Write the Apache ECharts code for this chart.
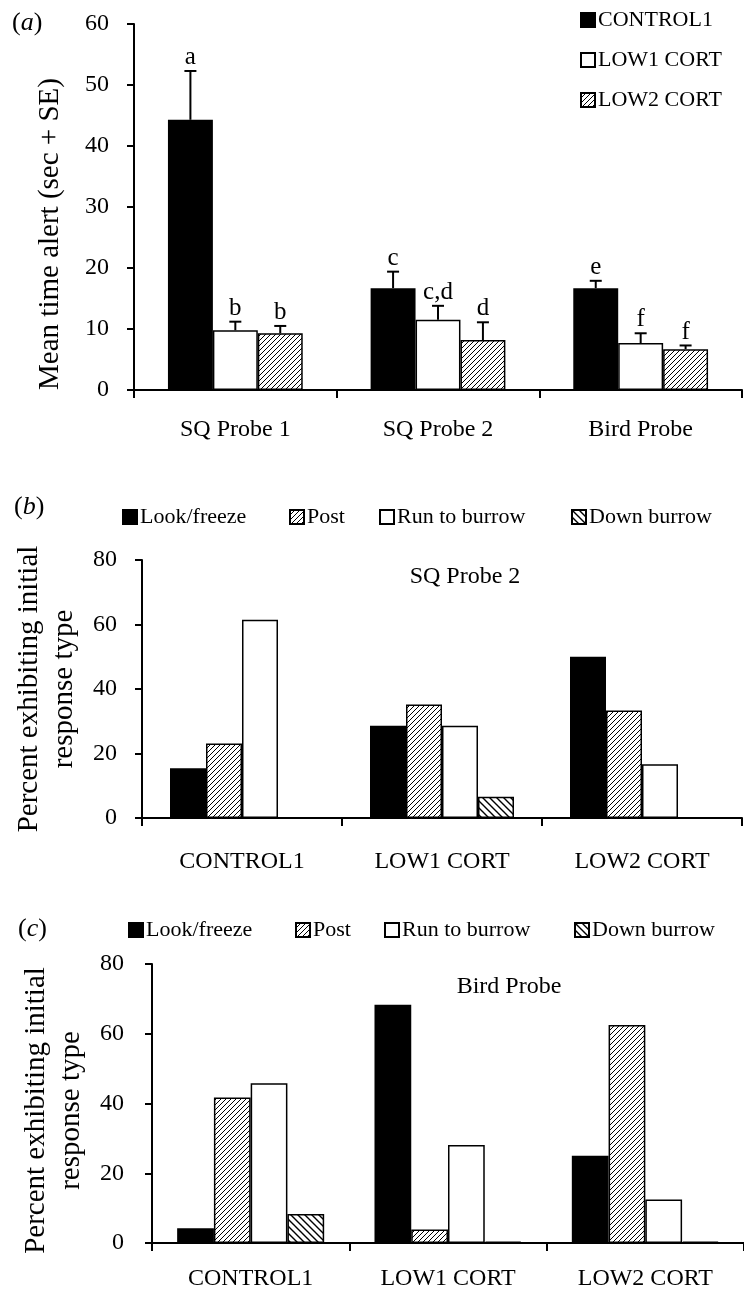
<!DOCTYPE html>
<html>
<head>
<meta charset="utf-8">
<script src="https://cdn.jsdelivr.net/npm/echarts@6/dist/echarts.min.js"></script>
<style>
html,body{margin:0;padding:0;background:#fff;}
#chart{width:744px;height:1297px;}
</style>
</head>
<body>
<div id="chart"></div>
<script>
// ---------- Panel (a) data ----------
const probesA = ['SQ Probe 1', 'SQ Probe 2', 'Bird Probe'];
const groupsA = ['CONTROL1', 'LOW1 CORT', 'LOW2 CORT'];
const meanControl1 = [44.3, 16.7, 16.7];
const meanLow1 = [9.8, 11.5, 7.7];
const meanLow2 = [9.3, 8.2, 6.7];
const upperControl1 = [52.3, 19.4, 17.9];
const upperLow1 = [11.2, 13.8, 9.3];
const upperLow2 = [10.5, 11.1, 7.3];
const lettersControl1 = ['a', 'c', 'e'];
const lettersLow1 = ['b', 'c,d', 'f'];
const lettersLow2 = ['b', 'd', 'f'];
const ticksA = [0, 10, 20, 30, 40, 50, 60];

// ---------- Panels (b) and (c) data ----------
const groupsBC = ['CONTROL1', 'LOW1 CORT', 'LOW2 CORT'];
const responses = ['Look/freeze', 'Post', 'Run to burrow', 'Down burrow'];
const sq2LookFreeze = [15.4, 28.6, 50.0];
const sq2Post = [23.1, 35.2, 33.3];
const sq2Run = [61.5, 28.6, 16.7];
const sq2Down = [0, 6.6, 0];
const birdLookFreeze = [4.2, 68.3, 25.0];
const birdPost = [41.7, 3.9, 62.5];
const birdRun = [45.8, 28.1, 12.5];
const birdDown = [8.3, 0.4, 0.4];
const ticksBC = [0, 20, 40, 60, 80];

// ---------- styling ----------
const FONT = '"Liberation Serif", "Times New Roman", serif';
const GAP_A = 0.335;

function hatch(dir, step, lw) {
  const c = document.createElement('canvas');
  c.width = step; c.height = step;
  const g = c.getContext('2d');
  g.fillStyle = '#fff';
  g.fillRect(0, 0, step, step);
  g.strokeStyle = '#000';
  g.lineWidth = lw;
  g.beginPath();
  if (dir === '/') {
    g.moveTo(-1, step + 1); g.lineTo(step + 1, -1);
    g.moveTo(-1, 1); g.lineTo(1, -1);
    g.moveTo(step - 1, step + 1); g.lineTo(step + 1, step - 1);
  } else {
    g.moveTo(-1, -1); g.lineTo(step + 1, step + 1);
    g.moveTo(step - 1, -1); g.lineTo(step + 1, 1);
    g.moveTo(-1, step - 1); g.lineTo(1, step + 1);
  }
  g.stroke();
  return { image: c, repeat: 'repeat' };
}
const fineHatch = hatch('/', 5, 1.0);
const backHatch = hatch('\\', 7, 1.4);

const styleBlack = { color: '#000', borderColor: '#000', borderWidth: 1.5 };
const styleWhite = { color: '#fff', borderColor: '#000', borderWidth: 1.5 };
const styleFine = { color: fineHatch, borderColor: '#000', borderWidth: 1.5 };
const styleBack = { color: backHatch, borderColor: '#000', borderWidth: 1.5 };

function xAxisCfg(gridIndex, data, margin) {
  return {
    type: 'category', gridIndex, data,
    axisLine: { lineStyle: { color: '#000', width: 2 } },
    axisTick: { show: true, length: 8, lineStyle: { color: '#000', width: 2 } },
    axisLabel: { color: '#000', fontFamily: FONT, fontSize: 24, margin },
    splitLine: { show: false }
  };
}
function yAxisCfg(gridIndex, max, interval, name, nameGap, margin, shiftDown) {
  return {
    type: 'value', gridIndex, min: 0, max, interval,
    name, nameLocation: 'middle', nameGap,
    nameTextStyle: { color: '#000', fontFamily: FONT, fontSize: 29, lineHeight: 35,
                     padding: [0, shiftDown * 2, 0, 0] },
    axisLine: { show: true, lineStyle: { color: '#000', width: 2 } },
    axisTick: { show: true, length: 7, lineStyle: { color: '#000', width: 2 } },
    axisLabel: { color: '#000', fontFamily: FONT, fontSize: 24, margin },
    splitLine: { show: false }
  };
}

function errRender(k, letters) {
  return function (params, api) {
    const i = api.value(0);
    const m = api.value(1);
    const u = api.value(2);
    const p0 = api.coord([i, m]);
    const p1 = api.coord([i, u]);
    const band = api.size([1, 0])[0];
    const bw = band * (1 - GAP_A) / 3;
    const x = p0[0] - 1.5 * bw + (k + 0.5) * bw;
    return {
      type: 'group',
      children: [
        { type: 'line', shape: { x1: x, y1: p0[1], x2: x, y2: p1[1] }, style: { stroke: '#000', lineWidth: 2 } },
        { type: 'line', shape: { x1: x - 6, y1: p1[1], x2: x + 6, y2: p1[1] }, style: { stroke: '#000', lineWidth: 2 } },
        { type: 'text', x: x, y: p1[1] - 1,
          style: { text: letters[params.dataIndex], align: 'center', verticalAlign: 'bottom',
                   fontFamily: FONT, fontSize: 25, fill: '#000' } }
      ]
    };
  };
}
function errData(means, uppers) {
  return means.map((m, i) => [i, m, uppers[i]]);
}

function legendItem(name, left, top) {
  return {
    data: [name], left, top, padding: 0, itemWidth: 14, itemHeight: 14, itemGap: 0,
    icon: 'rect', selectedMode: false,
    textStyle: { color: '#000', fontFamily: FONT, fontSize: 22, padding: [0, 0, 0, -2] }
  };
}

const option = {
  animation: false,
  backgroundColor: '#fff',
  title: [
    { text: '({i|a})', left: 12, top: 10, padding: 0,
      textStyle: { color: '#000', fontFamily: FONT, fontSize: 26, fontWeight: 'normal',
        rich: { i: { fontStyle: 'italic', fontFamily: FONT, fontSize: 26, color: '#000' } } } },
    { text: '({i|b})', left: 14, top: 494, padding: 0,
      textStyle: { color: '#000', fontFamily: FONT, fontSize: 26, fontWeight: 'normal',
        rich: { i: { fontStyle: 'italic', fontFamily: FONT, fontSize: 26, color: '#000' } } } },
    { text: '({i|c})', left: 18, top: 916, padding: 0,
      textStyle: { color: '#000', fontFamily: FONT, fontSize: 26, fontWeight: 'normal',
        rich: { i: { fontStyle: 'italic', fontFamily: FONT, fontSize: 26, color: '#000' } } } },
    { text: 'SQ Probe 2', left: 465, top: 565, textAlign: 'center', padding: 0,
      textStyle: { color: '#000', fontFamily: FONT, fontSize: 24, fontWeight: 'normal' } },
    { text: 'Bird Probe', left: 509, top: 975, textAlign: 'center', padding: 0,
      textStyle: { color: '#000', fontFamily: FONT, fontSize: 24, fontWeight: 'normal' } }
  ],
  legend: [
    { data: groupsA, orient: 'vertical', left: 580, top: 9, padding: 0, itemWidth: 14, itemHeight: 14,
      itemGap: 18, icon: 'rect', selectedMode: false,
      textStyle: { color: '#000', fontFamily: FONT, fontSize: 22, padding: [0, 0, 0, -2] } },
    legendItem('Look/freeze', 122, 506),
    legendItem('Post', 289, 506),
    legendItem('Run to burrow', 379, 506),
    legendItem('Down burrow', 571, 506),
    legendItem('Look/freeze ', 128, 919),
    legendItem('Post ', 295, 919),
    legendItem('Run to burrow ', 384, 919),
    legendItem('Down burrow ', 574, 919)
  ],
  grid: [
    { left: 134, top: 24, right: 2, height: 366 },
    { left: 142, top: 560, right: 2, height: 258 },
    { left: 152, top: 964, right: -6, height: 279 }
  ],
  xAxis: [
    xAxisCfg(0, probesA, 28),
    xAxisCfg(1, groupsBC, 32),
    xAxisCfg(2, groupsBC, 24)
  ],
  yAxis: [
    yAxisCfg(0, ticksA[ticksA.length - 1], ticksA[1] - ticksA[0], 'Mean time alert (sec + SE)', 66, 25, 27),
    yAxisCfg(1, ticksBC[ticksBC.length - 1], ticksBC[1] - ticksBC[0], 'Percent exhibiting initial\nresponse type', 51, 25, 0),
    yAxisCfg(2, ticksBC[ticksBC.length - 1], ticksBC[1] - ticksBC[0], 'Percent exhibiting initial\nresponse type', 60, 28, 7)
  ],
  series: [
    // panel (a)
    { name: groupsA[0], type: 'bar', xAxisIndex: 0, yAxisIndex: 0, data: meanControl1, itemStyle: styleBlack,
      barGap: '0%', barCategoryGap: (GAP_A * 100) + '%' },
    { name: groupsA[1], type: 'bar', xAxisIndex: 0, yAxisIndex: 0, data: meanLow1, itemStyle: styleWhite,
      barGap: '0%', barCategoryGap: (GAP_A * 100) + '%' },
    { name: groupsA[2], type: 'bar', xAxisIndex: 0, yAxisIndex: 0, data: meanLow2, itemStyle: styleFine,
      barGap: '0%', barCategoryGap: (GAP_A * 100) + '%' },
    { type: 'custom', xAxisIndex: 0, yAxisIndex: 0, renderItem: errRender(0, lettersControl1),
      data: errData(meanControl1, upperControl1), z: 5 },
    { type: 'custom', xAxisIndex: 0, yAxisIndex: 0, renderItem: errRender(1, lettersLow1),
      data: errData(meanLow1, upperLow1), z: 5 },
    { type: 'custom', xAxisIndex: 0, yAxisIndex: 0, renderItem: errRender(2, lettersLow2),
      data: errData(meanLow2, upperLow2), z: 5 },
    // panel (b)
    { name: responses[0], type: 'bar', xAxisIndex: 1, yAxisIndex: 1, data: sq2LookFreeze, itemStyle: styleBlack,
      barGap: '0%', barCategoryGap: '28%' },
    { name: responses[1], type: 'bar', xAxisIndex: 1, yAxisIndex: 1, data: sq2Post, itemStyle: styleFine,
      barGap: '0%', barCategoryGap: '28%' },
    { name: responses[2], type: 'bar', xAxisIndex: 1, yAxisIndex: 1, data: sq2Run, itemStyle: styleWhite,
      barGap: '0%', barCategoryGap: '28%' },
    { name: responses[3], type: 'bar', xAxisIndex: 1, yAxisIndex: 1, data: sq2Down, itemStyle: styleBack,
      barGap: '0%', barCategoryGap: '28%' },
    // panel (c)
    { name: responses[0] + ' ', type: 'bar', xAxisIndex: 2, yAxisIndex: 2, data: birdLookFreeze, itemStyle: styleBlack,
      barGap: '0%', barCategoryGap: '25.5%' },
    { name: responses[1] + ' ', type: 'bar', xAxisIndex: 2, yAxisIndex: 2, data: birdPost, itemStyle: styleFine,
      barGap: '0%', barCategoryGap: '25.5%' },
    { name: responses[2] + ' ', type: 'bar', xAxisIndex: 2, yAxisIndex: 2, data: birdRun, itemStyle: styleWhite,
      barGap: '0%', barCategoryGap: '25.5%' },
    { name: responses[3] + ' ', type: 'bar', xAxisIndex: 2, yAxisIndex: 2, data: birdDown, itemStyle: styleBack,
      barGap: '0%', barCategoryGap: '25.5%' }
  ]
};

const chart = echarts.init(document.getElementById('chart'), null, { renderer: 'canvas' });
chart.setOption(option);
</script>
</body>
</html>
